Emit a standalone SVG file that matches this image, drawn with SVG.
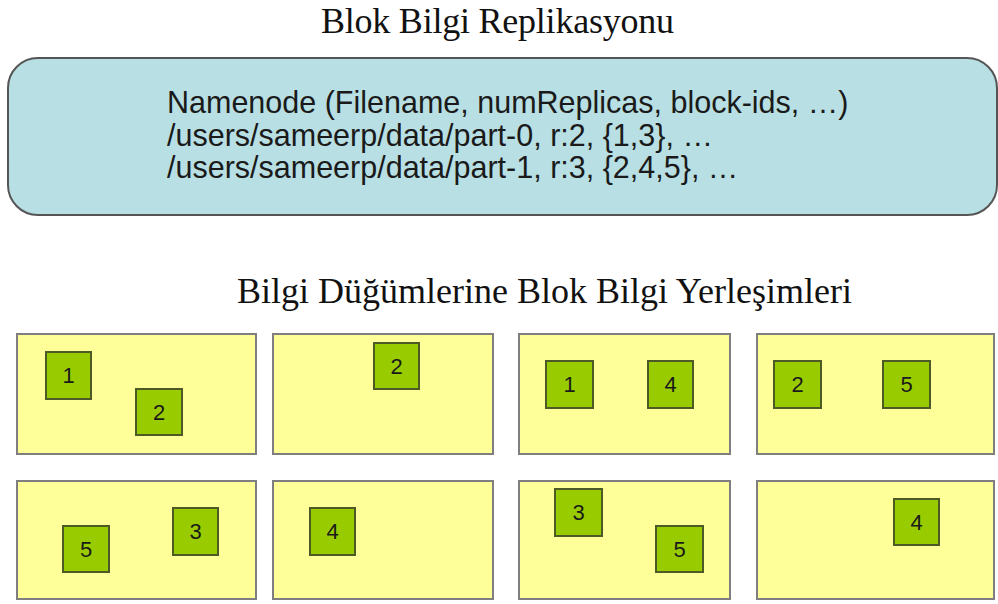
<svg xmlns="http://www.w3.org/2000/svg" width="998" height="604" viewBox="0 0 998 604">
<style>
.title{font-family:"Liberation Serif","Times New Roman",serif;font-size:36px;fill:#111}
.nn{font-family:"Liberation Sans",Arial,sans-serif;font-size:30.5px;fill:#1a1a1a}
.dn{fill:#ffff99;stroke:#7f7f7f;stroke-width:2}
.blk{fill:#99cc00;stroke:#4d5a26;stroke-width:2}
.num{font-family:"Liberation Sans",Arial,sans-serif;font-size:22px;fill:#1a1a1a;text-anchor:middle;dominant-baseline:central}
</style>
<rect width="998" height="604" fill="#ffffff"/>
<text class="title" x="321" y="33" textLength="353">Blok Bilgi Replikasyonu</text>
<g id="namenode">
<rect x="8" y="58" width="989" height="157" rx="30" ry="30" fill="#b8dfe3" stroke="#555" stroke-width="2"/>
<text class="nn" x="167" y="113">Namenode (Filename, numReplicas, block-ids, …)</text>
<text class="nn" x="167" y="146">/users/sameerp/data/part-0, r:2, {1,3}, …</text>
<text class="nn" x="167" y="178">/users/sameerp/data/part-1, r:3, {2,4,5}, …</text>
</g>
<text class="title" x="237" y="303">Bilgi Düğümlerine Blok Bilgi Yerleşimleri</text>
<g id="connectors"></g>
<g id="datanode1">
<rect class="dn" x="17" y="334" width="239" height="120"/>
<rect class="blk" x="46" y="352" width="45" height="47"/><text class="num" x="68.5" y="375.5">1</text>
<rect class="blk" x="136" y="389" width="46" height="46"/><text class="num" x="159" y="412">2</text>
</g>
<g id="datanode2">
<rect class="dn" x="273" y="334" width="220" height="120"/>
<rect class="blk" x="374" y="343" width="45" height="46"/><text class="num" x="396.5" y="366">2</text>
</g>
<g id="datanode3">
<rect class="dn" x="519" y="334" width="211" height="120"/>
<rect class="blk" x="546" y="361" width="47" height="47"/><text class="num" x="569.5" y="384.5">1</text>
<rect class="blk" x="648" y="361" width="45" height="47"/><text class="num" x="670.5" y="384.5">4</text>
</g>
<g id="datanode4">
<rect class="dn" x="757" y="334" width="237" height="120"/>
<rect class="blk" x="774" y="361" width="47" height="47"/><text class="num" x="797.5" y="384.5">2</text>
<rect class="blk" x="883" y="361" width="47" height="47"/><text class="num" x="906.5" y="384.5">5</text>
</g>
<g id="datanode5">
<rect class="dn" x="17" y="481" width="239" height="118"/>
<rect class="blk" x="63" y="526" width="46" height="46"/><text class="num" x="86" y="549">5</text>
<rect class="blk" x="173" y="508" width="45" height="47"/><text class="num" x="195.5" y="531.5">3</text>
</g>
<g id="datanode6">
<rect class="dn" x="273" y="481" width="220" height="118"/>
<rect class="blk" x="310" y="508" width="45" height="47"/><text class="num" x="332.5" y="531.5">4</text>
</g>
<g id="datanode7">
<rect class="dn" x="519" y="481" width="211" height="118"/>
<rect class="blk" x="555" y="489" width="47" height="47"/><text class="num" x="578.5" y="512.5">3</text>
<rect class="blk" x="656" y="526" width="47" height="46"/><text class="num" x="679.5" y="549">5</text>
</g>
<g id="datanode8">
<rect class="dn" x="757" y="481" width="237" height="118"/>
<rect class="blk" x="894" y="499" width="45" height="46"/><text class="num" x="916.5" y="522">4</text>
</g>
</svg>
